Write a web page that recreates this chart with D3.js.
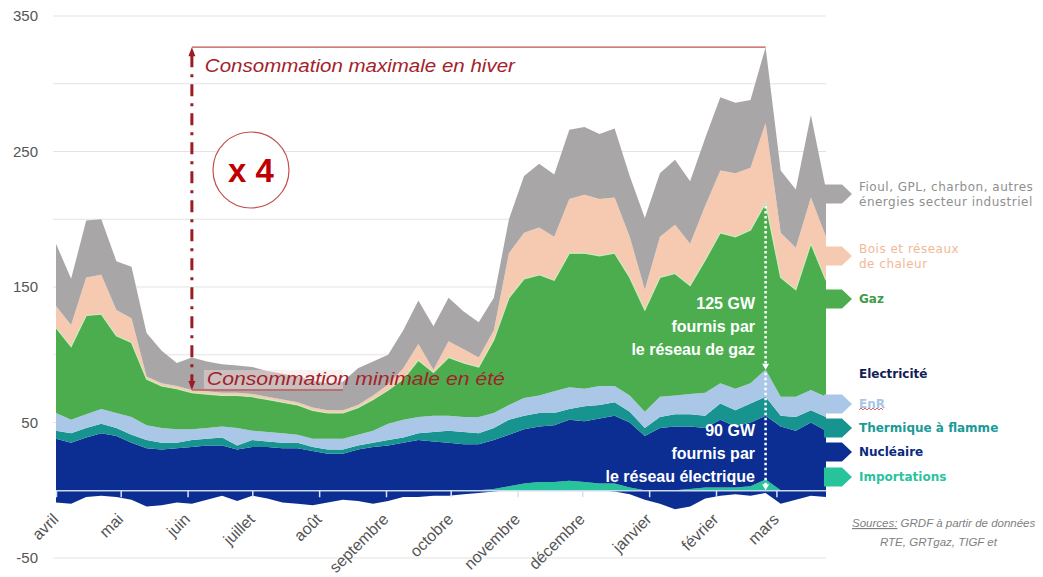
<!DOCTYPE html>
<html>
<head>
<meta charset="utf-8">
<script src="https://cdn.jsdelivr.net/npm/d3@7"></script>
<style>
  body { margin: 0; background: #fff; }
  svg { display: block; font-family: "Liberation Sans", Arial, sans-serif; }
</style>
</head>
<body>
<svg id="chart" width="1043" height="577"></svg>
<script>
// weekly values (GW), April -> March
const months = ["avril", "mai", "juin", "juillet", "août", "septembre", "octobre",
  "novembre", "décembre", "janvier", "février", "mars"];

const exportsNeg = [-9, -10, -5, -4, -5, -7, -12, -11, -9, -10, -7, -4, -8, -4, -6, -9, -10, -11, -9, -7,
  -8, -10, -8, -5, -5, -4, -4, -3, -2, -1, 0, 0, 0, 0, 0, 0, 0, -1, -3, -7,
  -10, -14, -12, -6, -4, -3, -4, -2, -10, -7, -4, -5];
const importations = [0, 0, 0, 0, 0, 0, 0, 0, 0, 0, 0, 0, 0, 0, 0, 0, 0, 0, 0, 0,
  0, 0, 0, 0, 0, 0, 0, 0, 0, 1, 3, 5, 6, 6, 7, 6, 5, 5, 2, 0,
  0, 0, 1, 2, 2, 2, 3, 8, 0, 0, 0, 0];
const nucleaire = [38, 35, 39, 42, 40, 35, 31, 30, 31, 32, 33, 33, 30, 32, 32, 31, 31, 29, 27, 27,
  30, 32, 33, 35, 37, 36, 35, 34, 34, 36, 38, 40, 41, 42, 45, 45, 48, 50, 48, 40,
  46, 47, 46, 44, 50, 45, 47, 47, 47, 44, 50, 44];
const thermique = [6, 7, 7, 7, 6, 6, 6, 5, 4, 5, 5, 6, 3, 5, 4, 4, 4, 3, 3, 3,
  3, 3, 4, 4, 5, 7, 9, 9, 8, 9, 11, 10, 10, 9, 8, 11, 10, 10, 8, 6,
  8, 9, 9, 9, 12, 12, 14, 14, 8, 10, 9, 10];
const enr = [13, 10, 10, 11, 11, 13, 11, 11, 10, 8, 8, 8, 13, 7, 7, 7, 6, 6, 8, 8,
  8, 9, 12, 13, 12, 12, 11, 11, 12, 11, 11, 13, 13, 16, 16, 13, 14, 12, 12, 12,
  15, 14, 15, 17, 15, 16, 15, 20, 14, 15, 15, 15];
const gaz = [63, 54, 73, 70, 57, 55, 34, 31, 30, 27, 25, 23, 24, 25, 24, 23, 22, 21, 19, 19,
  20, 23, 25, 30, 42, 32, 43, 40, 37, 54, 79, 88, 89, 82, 99, 100, 96, 98, 87, 75,
  88, 90, 80, 98, 111, 112, 113, 123, 88, 79, 108, 86];
const bois = [16, 16, 28, 29, 19, 18, 2, 2, 2, 2, 2, 2, 2, 2, 2, 2, 2, 2, 2, 2,
  2, 3, 4, 8, 12, 2, 12, 10, 7, 7, 33, 34, 35, 32, 40, 43, 42, 41, 30, 15,
  30, 36, 31, 40, 46, 47, 46, 59, 33, 31, 34, 32];
const fioul = [46, 34, 42, 41, 36, 38, 32, 24, 17, 24, 22, 21, 20, 20, 19, 19, 19, 20, 20, 21,
  27, 25, 22, 28, 32, 32, 32, 28, 26, 24, 25, 42, 47, 46, 51, 50, 48, 51, 45, 53,
  47, 48, 46, 50, 54, 52, 50, 56, 46, 43, 61, 35];

const yLabels = [350, 250, 150, 50, -50];
const yGrid = [350, 300, 250, 200, 150, 100, 50, -50];

const start = new Date(2013, 3, 1);
const weeks = d3.range(fioul.length).map(i => d3.timeDay.offset(start, 7 * i));
const monthStarts = d3.timeMonth.range(start, new Date(2014, 3, 1));

const keys = ["exports", "importations", "nucleaire", "thermique", "enr", "gaz", "bois", "fioul"];
const colors = {
  exports: "#0c2e92", importations: "#27c49c", nucleaire: "#0c2e92", thermique: "#17948f",
  enr: "#aac7e7", gaz: "#4bad4e", bois: "#f6cab0", fioul: "#a9a6a8"
};

const table = weeks.map((d, i) => ({
  date: d, exports: exportsNeg[i], importations: importations[i], nucleaire: nucleaire[i],
  thermique: thermique[i], enr: enr[i], gaz: gaz[i], bois: bois[i], fioul: fioul[i]
}));

const svg = d3.select("#chart");

const x = d3.scaleTime().domain([weeks[0], weeks[weeks.length - 1]]).range([56, 826]);
const y = d3.scaleLinear().domain([-50, 350]).range([558, 16]);

// grid
svg.append("g").selectAll("line").data(yGrid).enter().append("line")
  .attr("x1", 53).attr("x2", 826)
  .attr("y1", d => y(d)).attr("y2", d => y(d))
  .attr("stroke", "#e3e3e3").attr("stroke-width", 1);

svg.append("g").selectAll("text").data(yLabels).enter().append("text")
  .attr("x", 38).attr("y", d => y(d)).attr("dy", "0.35em")
  .attr("text-anchor", "end")
  .attr("font-size", 15).attr("fill", "#555")
  .text(d => d);

// stacked areas
const series = d3.stack().keys(keys).offset(d3.stackOffsetDiverging)(table);
const area = d3.area()
  .x(d => x(d.data.date))
  .y0(d => y(d[0]))
  .y1(d => y(d[1]));

svg.append("g").selectAll("path").data(series).enter().append("path")
  .attr("d", area)
  .attr("fill", d => colors[d.key]);

// pale edge on top of the gas layer
const gasSeries = series.find(s => s.key === "gaz");
svg.append("path")
  .datum(gasSeries)
  .attr("d", d3.line().x(d => x(d.data.date)).y(d => y(d[1])))
  .attr("fill", "none").attr("stroke", "#cfe9bd").attr("stroke-width", 1.2);

// x axis on zero line
const xAxis = svg.append("g")
  .attr("transform", "translate(0," + y(0) + ")")
  .call(d3.axisBottom(x).tickValues(monthStarts).tickFormat((d, i) => months[i])
    .tickSizeInner(7).tickSizeOuter(0));
xAxis.select(".domain").attr("stroke", "#c8daf0").attr("stroke-width", 1.5);
xAxis.selectAll(".tick line").attr("stroke", "#d6e3f3").attr("stroke-width", 1.5);
xAxis.selectAll(".tick text")
  .attr("x", 0).attr("y", 0).attr("dy", 0)
  .attr("transform", "translate(3,30) rotate(-45)")
  .attr("text-anchor", "end")
  .attr("font-size", 16).attr("fill", "#555")
  .attr("font-family", "'Liberation Sans', Arial, sans-serif");

// legend arrows
const legend = [
  { key: "fioul", cy: 194, lines: ["Fioul, GPL, charbon, autres", "énergies secteur industriel"], color: "#8f8f8f", weight: "normal", ls: 0.5 },
  { key: "bois", cy: 256, lines: ["Bois et réseaux", "de chaleur"], color: "#f2b996", weight: "normal", ls: 0.5 },
  { key: "gaz", cy: 299, lines: ["Gaz"], color: "#3f9d48", weight: "bold", ls: 0 },
  { key: "enr", cy: 404, lines: ["EnR"], color: "#a9c6e6", weight: "bold", ls: 0 },
  { key: "thermique", cy: 428, lines: ["Thermique à flamme"], color: "#1b9a96", weight: "bold", ls: 0 },
  { key: "nucleaire", cy: 452, lines: ["Nucléaire"], color: "#0b2a7f", weight: "bold", ls: 0 },
  { key: "importations", cy: 477, lines: ["Importations"], color: "#2ac2a0", weight: "bold", ls: 0 }
];
const lg = svg.append("g");
legend.forEach(l => {
  const h = 19, x0 = 824, x1 = 842, x2 = 852;
  lg.append("polygon")
    .attr("points", [[x0, l.cy - h / 2], [x1, l.cy - h / 2], [x2, l.cy], [x1, l.cy + h / 2], [x0, l.cy + h / 2]].join(" "))
    .attr("fill", colors[l.key]);
  const t = lg.append("text")
    .attr("x", 859).attr("y", l.cy + (l.lines.length > 1 ? -3 : 4))
    .attr("font-family", "'DejaVu Sans', sans-serif")
    .attr("font-size", 12).attr("font-weight", l.weight)
    .attr("letter-spacing", l.ls)
    .attr("fill", l.color);
  l.lines.forEach((s, i) => t.append("tspan").attr("x", 859).attr("dy", i ? 15 : 0).text(s));
});
lg.append("text").attr("x", 859).attr("y", 378)
  .attr("font-family", "'DejaVu Sans', sans-serif")
  .attr("font-size", 12).attr("font-weight", "bold").attr("fill", "#131d55")
  .text("Electricité");
// squiggle under EnR
lg.append("path")
  .attr("d", "M859,410 l2,-2 l2,2 l2,-2 l2,2 l2,-2 l2,2 l2,-2 l2,2 l2,-2 l2,2 l2,-2 l2,2")
  .attr("fill", "none").attr("stroke", "#d04040").attr("stroke-width", 0.8);

// sources
const src = svg.append("g").attr("font-style", "italic").attr("font-size", 11.5).attr("fill", "#7f7f7f");
const s1 = src.append("text").attr("x", 852).attr("y", 527);
s1.append("tspan").attr("text-decoration", "underline").text("Sources:");
s1.append("tspan").text(" GRDF à partir de données");
src.append("text").attr("x", 880).attr("y", 546).text("RTE, GRTgaz, TIGF et");

// annotations: max / min
const red = "#9b1c22";
const kMin = 9, kMax = d3.maxIndex(table, d => d.importations + d.nucleaire + d.thermique + d.enr + d.gaz + d.bois + d.fioul);
const maxTop = series.find(s => s.key === "fioul")[kMax][1];
const low = series.find(s => s.key === "bois")[kMin][1];
const xa = x(weeks[kMin]);

svg.append("line")
  .attr("x1", xa).attr("x2", x(weeks[kMax]))
  .attr("y1", y(maxTop)).attr("y2", y(maxTop))
  .attr("stroke", "#c0504d").attr("stroke-width", 1.3);

svg.append("rect")
  .attr("x", xa + 12).attr("y", y(low) - 20).attr("width", x(weeks[19]) - xa - 12).attr("height", 19)
  .attr("fill", "#f4dede").attr("opacity", 0.45);
svg.append("line")
  .attr("x1", xa).attr("x2", x(weeks[19]))
  .attr("y1", y(low)).attr("y2", y(low))
  .attr("stroke", "#c0504d").attr("stroke-width", 1.5).attr("opacity", 0.8);

svg.append("line")
  .attr("x1", xa).attr("x2", xa)
  .attr("y1", y(maxTop) + 8).attr("y2", y(low) - 8)
  .attr("stroke", red).attr("stroke-width", 3)
  .attr("stroke-dasharray", "12,7,3,7");
svg.append("path")
  .attr("d", `M${xa - 3.5},${y(maxTop) + 9} L${xa},${y(maxTop)} L${xa + 3.5},${y(maxTop) + 9} Z`)
  .attr("fill", red);
svg.append("path")
  .attr("d", `M${xa - 3.5},${y(low) - 9} L${xa},${y(low)} L${xa + 3.5},${y(low) - 9} Z`)
  .attr("fill", red);

svg.append("text")
  .attr("x", xa + 13).attr("y", 72)
  .attr("font-size", 18).attr("font-style", "italic").attr("fill", "#a3222a")
  .attr("textLength", 310).attr("lengthAdjust", "spacingAndGlyphs")
  .text("Consommation maximale en hiver");
svg.append("text")
  .attr("x", xa + 15).attr("y", 385)
  .attr("font-size", 18).attr("font-style", "italic").attr("fill", "#a3222a")
  .attr("textLength", 298).attr("lengthAdjust", "spacingAndGlyphs")
  .text("Consommation minimale en été");

svg.append("circle")
  .attr("cx", 251).attr("cy", 170).attr("r", 38)
  .attr("fill", "#fff").attr("stroke", "#c0504d").attr("stroke-width", 1.2);
svg.append("text")
  .attr("x", 251).attr("y", 182).attr("text-anchor", "middle")
  .attr("font-size", 33).attr("font-weight", "bold").attr("fill", "#c00000")
  .text("x 4");

// peak split: gas network vs electric network
const xp = x(weeks[kMax]);
const gasTop = gasSeries[kMax][1];
const elecTop = series.find(s => s.key === "enr")[kMax][1];
[[gasTop, elecTop], [elecTop, 0]].forEach(([a, b]) => {
  svg.append("line")
    .attr("x1", xp).attr("x2", xp)
    .attr("y1", y(a) + 3).attr("y2", y(b) - 5)
    .attr("stroke", "#fff").attr("stroke-width", 2.5)
    .attr("stroke-dasharray", "2.5,2.5");
  svg.append("path")
    .attr("d", `M${xp - 3.5},${y(b) - 6} L${xp},${y(b)} L${xp + 3.5},${y(b) - 6} Z`)
    .attr("fill", "#fff");
});

const note = (lines, y0) => {
  const t = svg.append("text")
    .attr("text-anchor", "end").attr("font-size", 16).attr("font-weight", "bold").attr("fill", "#fff");
  lines.forEach((s, i) => t.append("tspan").attr("x", 755).attr("y", y0 + i * 23).text(s));
};
note(["125 GW", "fournis par", "le réseau  de gaz"], 309);
note(["90 GW", "fournis par", "le réseau électrique"], 436);
</script>
</body>
</html>
